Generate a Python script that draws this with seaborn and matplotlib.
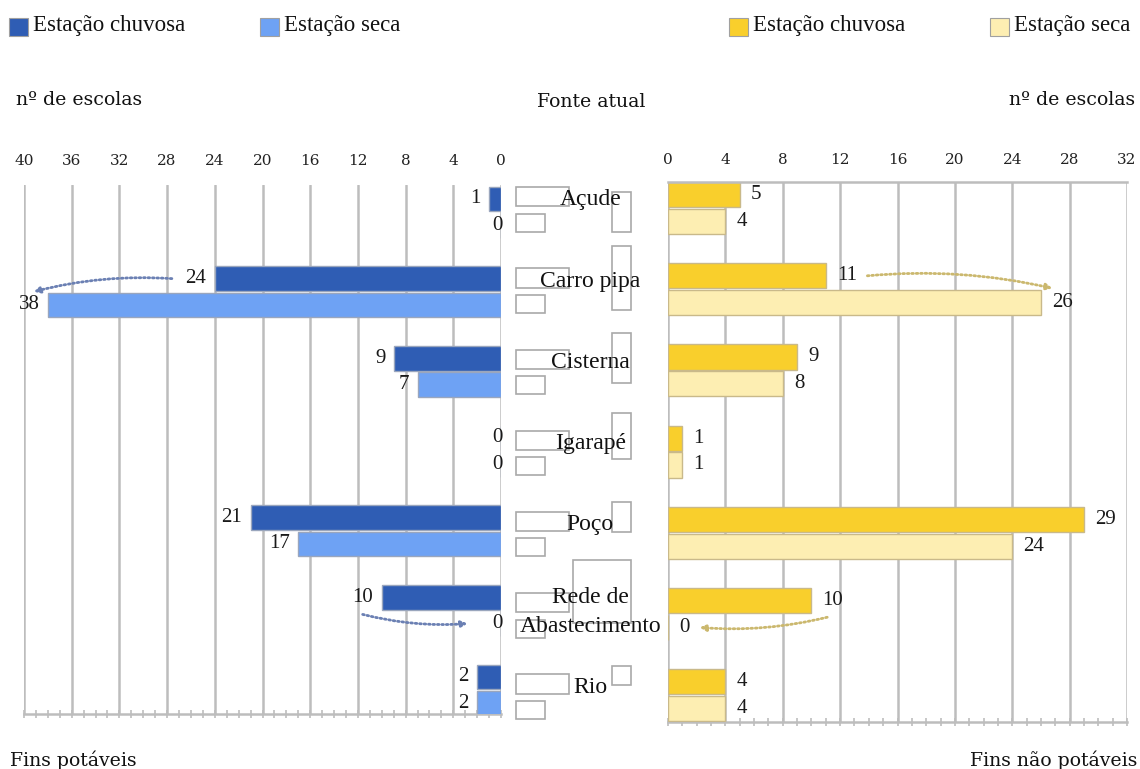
import numpy as np
import pandas as pd
import matplotlib
matplotlib.use("Agg")
import matplotlib.pyplot as plt
from matplotlib.patches import Rectangle
from matplotlib.ticker import MultipleLocator
import seaborn as sns

# ---- data -------------------------------------------------------------
fontes = ["Açude", "Carro pipa", "Cisterna", "Igarapé", "Poço",
          "Rede de\nAbastecimento", "Rio"]
estacoes = ["Estação chuvosa", "Estação seca"]
potavel_chuvosa = [1, 24, 9, 0, 21, 10, 2]
potavel_seca = [0, 38, 7, 0, 17, 0, 2]
nao_potavel_chuvosa = [5, 11, 9, 1, 29, 10, 4]
nao_potavel_seca = [4, 26, 8, 1, 24, 0, 4]
ticks_potavel = [40, 36, 32, 28, 24, 20, 16, 12, 8, 4, 0]
ticks_nao_potavel = [0, 4, 8, 12, 16, 20, 24, 28, 32]

# ---- style ------------------------------------------------------------
sns.set_style("white")
plt.rcParams["font.family"] = ["DejaVu Serif"]
SERIF_T = ["Liberation Serif", "DejaVu Serif"]
AZUL_ESC, AZUL_CLA = "#2f5db4", "#6ea2f4"
AMAR_ESC, AMAR_CLA = "#f9cf2c", "#fdeeb2"
GRADE = "#bdbdbd"

W, H = 1140, 769
fig = plt.figure(figsize=(W / 100, H / 100), dpi=100)


def eixo_px(x0, y0, x1, y1):
    return fig.add_axes([x0 / W, 1 - y1 / H, (x1 - x0) / W, (y1 - y0) / H])


ax_l = eixo_px(24, 185, 501, 714)
ax_r = eixo_px(668, 182, 1127, 722)
ax_c = eixo_px(501, 182, 668, 722)


def longo(chuvosa, seca):
    return pd.DataFrame({
        "fonte": fontes * 2,
        "estacao": [estacoes[0]] * len(fontes) + [estacoes[1]] * len(fontes),
        "n": list(chuvosa) + list(seca),
    })


df_l = longo(potavel_chuvosa, potavel_seca)
df_r = longo(nao_potavel_chuvosa, nao_potavel_seca)

for ax, df, pal, edge in [(ax_l, df_l, [AZUL_ESC, AZUL_CLA], "#9aa6bd"),
                          (ax_r, df_r, [AMAR_ESC, AMAR_CLA], "#c9b98a")]:
    sns.barplot(data=df, y="fonte", x="n", hue="estacao", order=fontes,
                hue_order=estacoes, orient="h", palette=pal, width=0.66,
                gap=0.06, edgecolor=edge, linewidth=1.0, legend=False,
                saturation=1, ax=ax)
    ax.set_axisbelow(True)
    ax.grid(axis="x", color=GRADE, lw=1.8)
    ax.grid(axis="y", visible=False)
    ax.set_xlabel("")
    ax.set_ylabel("")
    ax.set_yticks([])
    ax.xaxis.tick_top()
    ax.tick_params(axis="x", length=0, labelsize=11, colors="#222222")
    for s in ax.spines.values():
        s.set_visible(False)
    sec = ax.secondary_xaxis("bottom")
    sec.xaxis.set_major_locator(MultipleLocator(4))
    sec.xaxis.set_minor_locator(MultipleLocator(1))
    sec.tick_params(which="both", direction="inout", length=6, width=1.2,
                    color=GRADE, labelbottom=False)
    sec.spines["bottom"].set_color(GRADE)
    sec.spines["bottom"].set_linewidth(1.8)

ax_l.set_xlim(40, 0)
ax_l.set_xticks(ticks_potavel)
ax_l.tick_params(axis="x", pad=12)
ax_l.set_ylim(6.30, -0.34)

ax_r.set_xlim(0, 32)
ax_r.set_xticks(ticks_nao_potavel)
ax_r.tick_params(axis="x", pad=11)
ax_r.set_ylim(6.33, -0.32)
ax_r.spines["top"].set_visible(True)
ax_r.spines["top"].set_color(GRADE)
ax_r.spines["top"].set_linewidth(1.8)

# value labels at the bar ends
for cont in ax_l.containers:
    ax_l.bar_label(cont, padding=6, fontsize=15, family=SERIF_T,
                   color="#1a1a1a")
for cont in ax_r.containers:
    ax_r.bar_label(cont, padding=8, fontsize=15, family=SERIF_T,
                   color="#1a1a1a")

# dotted arrows linking rainy/dry season values
OFF = 0.165


def seta(ax, v0, y0, v1, y1, cor, rad):
    ax.annotate("", xy=(v1, y1), xytext=(v0, y0),
                arrowprops=dict(arrowstyle="-|>", color=cor, lw=2.0,
                                linestyle=(0, (0.6, 1.0)), shrinkA=0,
                                shrinkB=0, mutation_scale=9,
                                connectionstyle=f"arc3,rad={rad}"),
                zorder=5)


i_cp, i_rede = 1, 5
seta(ax_l, potavel_chuvosa[i_cp] + 3.6, i_cp - OFF,
     potavel_seca[i_cp] + 1.2, i_cp, "#6b80b3", 0.08)
seta(ax_l, potavel_chuvosa[i_rede] + 1.6, i_rede + 0.05,
     potavel_seca[i_rede] + 2.8, i_rede + OFF, "#6b80b3", 0.08)
seta(ax_r, nao_potavel_chuvosa[i_cp] + 2.9, i_cp - OFF,
     nao_potavel_seca[i_cp] + 0.8, i_cp - 0.01, "#cbb86e", -0.08)
seta(ax_r, nao_potavel_chuvosa[i_rede] + 1.1, i_rede + 0.04,
     nao_potavel_seca[i_rede] + 2.2, i_rede + OFF, "#cbb86e", -0.08)

# centre column: source names with their outline boxes
ax_c.set_xlim(0, 1)
ax_c.set_ylim(6.33, -0.32)
ax_c.axis("off")
caixas_altas = [(0.665, -0.20, 0.30), (0.665, -0.53, 0.26),
                (0.665, -0.46, 0.16), (0.665, -0.47, 0.09),
                (0.665, -0.38, -0.01), (0.431, -0.67, 0.11),
                (0.665, -0.36, -0.12)]
for i, nome in enumerate(fontes):
    ax_c.add_patch(Rectangle((0.09, i - 0.255), 0.317, 0.235, fc="white",
                             ec="#a9a9a9", lw=1.2, zorder=1))
    ax_c.add_patch(Rectangle((0.09, i + 0.07), 0.173, 0.22, fc="white",
                             ec="#a9a9a9", lw=1.2, zorder=1))
    x0, y0, y1 = caixas_altas[i]
    ax_c.add_patch(Rectangle((x0, i + y0), 0.778 - x0, y1 - y0, fc="none",
                             ec="#a9a9a9", lw=1.2, zorder=1))
    dy = -0.03 if "\n" in nome else -0.10
    ax_c.text(0.535, i + dy, nome, ha="center", va="center", fontsize=17,
              family=SERIF_T, color="#111111", zorder=3, linespacing=1.5)

# legends
def legenda(x_sq, texto, cor):
    fig.add_artist(Rectangle((x_sq / W, 1 - 36 / H), 19 / W, 18 / H,
                             transform=fig.transFigure, fc=cor,
                             ec="#a0a0a0", lw=0.8))
    fig.text((x_sq + 24) / W, 1 - 25 / H, texto, ha="left", va="center",
             fontsize=16.5, family=SERIF_T, color="#111111")


legenda(9, estacoes[0], AZUL_ESC)
legenda(260, estacoes[1], AZUL_CLA)
legenda(729, estacoes[0], AMAR_ESC)
legenda(990, estacoes[1], AMAR_CLA)

# headers and footers
fig.text(16 / W, 1 - 100 / H, "nº de escolas", ha="left", va="center",
         fontsize=13.6, color="#111111")
fig.text(1135 / W, 1 - 100 / H, "nº de escolas", ha="right", va="center",
         fontsize=13.6, color="#111111")
fig.text(591 / W, 1 - 102 / H, "Fonte atual", ha="center", va="center",
         fontsize=13.6, color="#111111")
fig.text(10 / W, 1 - 766 / H, "Fins potáveis", ha="left", va="baseline",
         fontsize=13.6, color="#111111")
fig.text(1137 / W, 1 - 766 / H, "Fins não potáveis", ha="right",
         va="baseline", fontsize=13.6, color="#111111")

fig.savefig("out.png", dpi=100, facecolor="white")
